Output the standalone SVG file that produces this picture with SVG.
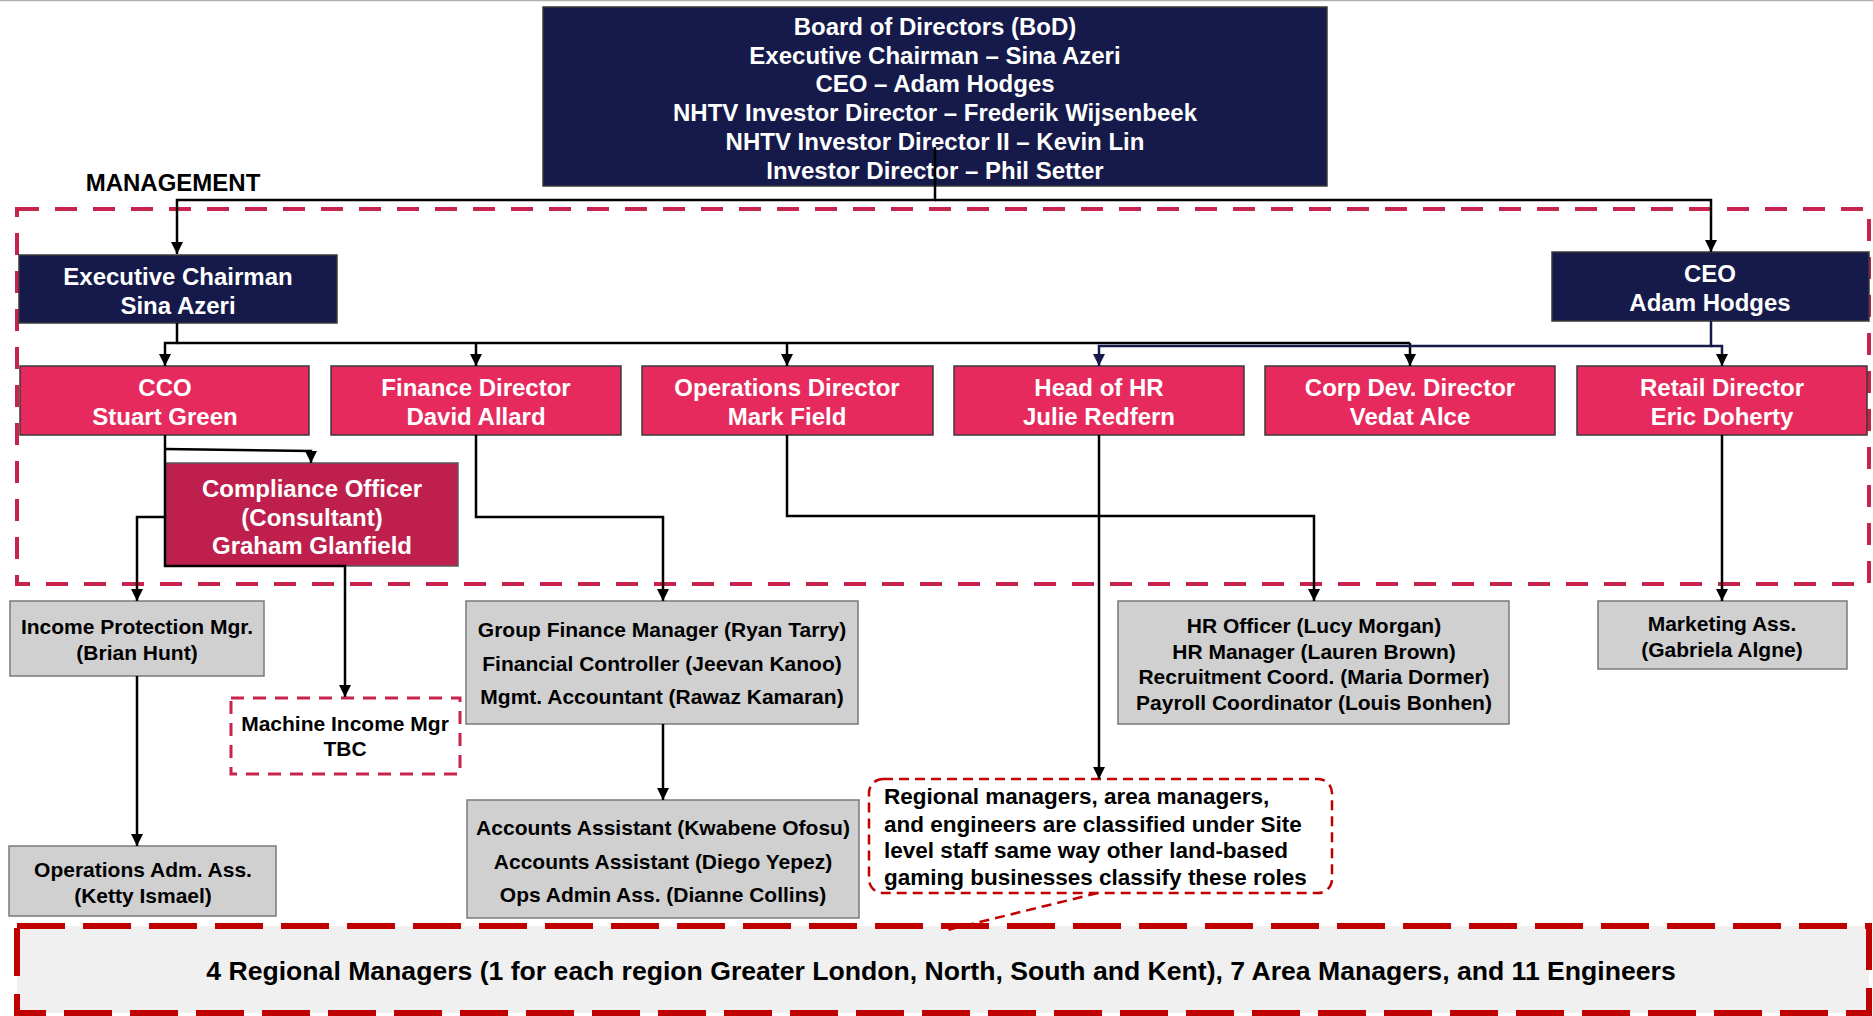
<svg xmlns="http://www.w3.org/2000/svg" width="1873" height="1016" viewBox="0 0 1873 1016">
<defs>
<style>
text{font-family:"Liberation Sans",Arial,sans-serif;font-weight:bold;text-anchor:middle}
.w{fill:#fff;font-size:24px}
.k{fill:#000;font-size:21px}
.navy{fill:#151a4a;stroke:#3a3a3a;stroke-width:1.5}
.pink{fill:#e62a5e;stroke:#3a3a3a;stroke-width:1.5}
.comp{fill:#be1f4d;stroke:#5a5a5a;stroke-width:1.5}
.gray{fill:#d0d0d0;stroke:#7a7a7a;stroke-width:1.5}
.ln{fill:none;stroke:#000;stroke-width:2.5}
.lnn{fill:none;stroke:#151a4a;stroke-width:2.5}
</style>
<marker id="a" viewBox="0 0 10 10" refX="10" refY="5" markerWidth="14" markerHeight="12" markerUnits="userSpaceOnUse" orient="auto"><path d="M0,0 L10,5 L0,10 z" fill="#000"/></marker>
<marker id="an" viewBox="0 0 10 10" refX="10" refY="5" markerWidth="14" markerHeight="12" markerUnits="userSpaceOnUse" orient="auto"><path d="M0,0 L10,5 L0,10 z" fill="#151a4a"/></marker>
</defs>
<rect x="0" y="0" width="1873" height="1016" fill="#fff"/>
<line x1="0" y1="0.5" x2="1873" y2="0.5" stroke="#b0b0b0" stroke-width="1.5"/>

<g id="management-area">
<rect x="17" y="209" width="1852" height="375" fill="none" stroke="#c8234d" stroke-width="4" stroke-dasharray="22 16"/>
<text x="173" y="191" style="font-size:24px;fill:#000">MANAGEMENT</text>
</g>

<g id="site-staff">
<rect x="17" y="926" width="1852" height="87" fill="#f0f0f0" stroke="#c00000" stroke-width="6" stroke-dasharray="48 18"/>
<text x="941" y="980" style="font-size:26.6px;fill:#000">4 Regional Managers (1 for each region Greater London, North, South and Kent), 7 Area Managers, and 11 Engineers</text>
</g>

<g id="bod">
<rect class="navy" x="543" y="7" width="784" height="179"/>
<text class="w" x="935" y="35">Board of Directors (BoD)</text>
<text class="w" x="935" y="64">Executive Chairman – Sina Azeri</text>
<text class="w" x="935" y="92">CEO – Adam Hodges</text>
<text class="w" x="935" y="121">NHTV Investor Director – Frederik Wijsenbeek</text>
<text class="w" x="935" y="150">NHTV Investor Director II – Kevin Lin</text>
<text class="w" x="935" y="179">Investor Director – Phil Setter</text>
</g>

<g id="exec-chairman">
<rect class="navy" x="19" y="255" width="318" height="68"/>
<text class="w" x="178" y="285">Executive Chairman</text>
<text class="w" x="178" y="314">Sina Azeri</text>
</g>

<g id="ceo">
<rect class="navy" x="1552" y="252" width="317" height="69"/>
<text class="w" x="1710" y="282">CEO</text>
<text class="w" x="1710" y="311">Adam Hodges</text>
</g>

<g id="cco">
<rect class="pink" x="20" y="366" width="289" height="69"/>
<text class="w" x="165" y="396">CCO</text>
<text class="w" x="165" y="425">Stuart Green</text>
</g>
<g id="finance-director">
<rect class="pink" x="331" y="366" width="290" height="69"/>
<text class="w" x="476" y="396">Finance Director</text>
<text class="w" x="476" y="425">David Allard</text>
</g>
<g id="operations-director">
<rect class="pink" x="642" y="366" width="291" height="69"/>
<text class="w" x="787" y="396">Operations Director</text>
<text class="w" x="787" y="425">Mark Field</text>
</g>
<g id="head-of-hr">
<rect class="pink" x="954" y="366" width="290" height="69"/>
<text class="w" x="1099" y="396">Head of HR</text>
<text class="w" x="1099" y="425">Julie Redfern</text>
</g>
<g id="corp-dev-director">
<rect class="pink" x="1265" y="366" width="290" height="69"/>
<text class="w" x="1410" y="396">Corp Dev. Director</text>
<text class="w" x="1410" y="425">Vedat Alce</text>
</g>
<g id="retail-director">
<rect class="pink" x="1577" y="366" width="290" height="69"/>
<text class="w" x="1722" y="396">Retail Director</text>
<text class="w" x="1722" y="425">Eric Doherty</text>
</g>

<g id="compliance-officer">
<rect class="comp" x="166" y="463" width="292" height="103"/>
<text class="w" x="312" y="497">Compliance Officer</text>
<text class="w" x="312" y="526">(Consultant)</text>
<text class="w" x="312" y="554">Graham Glanfield</text>
</g>

<g id="income-protection">
<rect class="gray" x="10" y="601" width="254" height="75"/>
<text class="k" x="137" y="634">Income Protection Mgr.</text>
<text class="k" x="137" y="660">(Brian Hunt)</text>
</g>

<g id="machine-income">
<rect x="231" y="698" width="229" height="76" fill="#fff" stroke="#c8234d" stroke-width="3" stroke-dasharray="13 9"/>
<text class="k" x="345" y="731">Machine Income Mgr</text>
<text class="k" x="345" y="756">TBC</text>
</g>

<g id="operations-adm">
<rect class="gray" x="9" y="846" width="267" height="70"/>
<text class="k" x="143" y="877">Operations Adm. Ass.</text>
<text class="k" x="143" y="903">(Ketty Ismael)</text>
</g>

<g id="finance-team">
<rect class="gray" x="466" y="601" width="392" height="123"/>
<text class="k" x="662" y="637">Group Finance Manager (Ryan Tarry)</text>
<text class="k" x="662" y="671">Financial Controller (Jeevan Kanoo)</text>
<text class="k" x="662" y="704">Mgmt. Accountant (Rawaz Kamaran)</text>
</g>

<g id="accounts-team">
<rect class="gray" x="467" y="800" width="392" height="118"/>
<text class="k" x="663" y="835">Accounts Assistant (Kwabene Ofosu)</text>
<text class="k" x="663" y="869">Accounts Assistant (Diego Yepez)</text>
<text class="k" x="663" y="902">Ops Admin Ass. (Dianne Collins)</text>
</g>

<g id="hr-team">
<rect class="gray" x="1118" y="601" width="391" height="123"/>
<text class="k" x="1314" y="633">HR Officer (Lucy Morgan)</text>
<text class="k" x="1314" y="659">HR Manager (Lauren Brown)</text>
<text class="k" x="1314" y="684">Recruitment Coord. (Maria Dormer)</text>
<text class="k" x="1314" y="710">Payroll Coordinator (Louis Bonhen)</text>
</g>

<g id="marketing">
<rect class="gray" x="1598" y="601" width="249" height="68"/>
<text class="k" x="1722" y="631">Marketing Ass.</text>
<text class="k" x="1722" y="657">(Gabriela Algne)</text>
</g>

<g id="site-note">
<rect x="869" y="779" width="463" height="114" rx="14" fill="#fff" stroke="#c00000" stroke-width="2.5" stroke-dasharray="10 6"/>
<text x="884" y="804" style="font-size:22.5px;fill:#000;text-anchor:start">Regional managers, area managers,</text>
<text x="884" y="832" style="font-size:22.5px;fill:#000;text-anchor:start">and engineers are classified under Site</text>
<text x="884" y="858" style="font-size:22.5px;fill:#000;text-anchor:start">level staff same way other land-based</text>
<text x="884" y="885" style="font-size:22.5px;fill:#000;text-anchor:start">gaming businesses classify these roles</text>
</g>

<g id="connectors">
<path class="ln" d="M935,147 V200 H177 V254" marker-end="url(#a)"/>
<path class="ln" d="M935,200 H1711 V252" marker-end="url(#a)"/>
<path class="ln" d="M177,323 V343 H165 V366" marker-end="url(#a)"/>
<path class="ln" d="M177,343 H1410"/>
<path class="ln" d="M476,343 V366" marker-end="url(#a)"/>
<path class="ln" d="M787,343 V366" marker-end="url(#a)"/>
<path class="ln" d="M1410,343 V366" marker-end="url(#a)"/>
<path class="lnn" d="M1711,321 V346 H1099 V366" marker-end="url(#an)"/>
<path class="lnn" d="M1711,346 H1722 V366" marker-end="url(#a)"/>
<path class="ln" d="M165,435 V566 H345 V697" marker-end="url(#a)"/>
<path class="ln" d="M165,449 L311,451 V463" marker-end="url(#a)"/>
<path class="ln" d="M165,517 H137 V601" marker-end="url(#a)"/>
<path class="ln" d="M137,676 V846" marker-end="url(#a)"/>
<path class="ln" d="M476,435 V517 H663 V601" marker-end="url(#a)"/>
<path class="ln" d="M663,724 V800" marker-end="url(#a)"/>
<path class="ln" d="M787,435 V516 H1314 V601" marker-end="url(#a)"/>
<path class="ln" d="M1099,435 V779" marker-end="url(#a)"/>
<path class="ln" d="M1722,435 V601" marker-end="url(#a)"/>
<path d="M1098,893 L943,931" fill="none" stroke="#c00000" stroke-width="2.5" stroke-dasharray="10 6"/>
</g>
</svg>
